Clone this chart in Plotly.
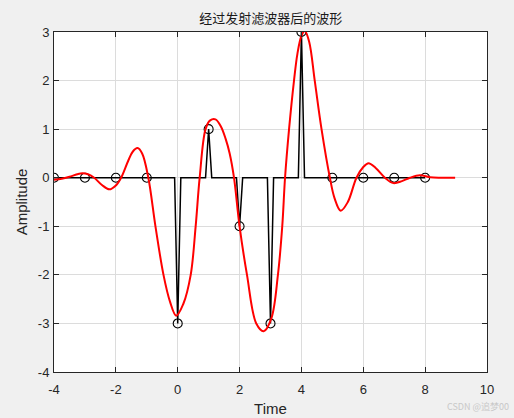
import numpy as np
import plotly.graph_objects as go

# symbol times and values (black stems with circles)
sym_t = [-4, -3, -2, -1, 0, 1, 2, 3, 4, 5, 6, 7, 8]
sym_v = [0, 0, 0, 0, -3, 1, -1, -3, 3, 0, 0, 0, 0]

# filtered waveform (red)
red_t = [-4.0, -3.75, -3.5, -3.25, -3.08, -2.9, -2.7, -2.45, -2.21, -2.0, -1.83,
         -1.6, -1.45, -1.3, -1.15, -0.95, -0.72, -0.46, -0.25, -0.05, 0.18, 0.42,
         0.58, 0.71, 0.9, 1.05, 1.22, 1.4, 1.55, 1.68, 1.82, 2.0, 2.24, 2.54,
         2.78, 3.03, 3.24, 3.38, 3.47, 3.6, 3.76, 3.87, 4.0, 4.11, 4.25, 4.43,
         4.65, 4.92, 5.07, 5.27, 5.5, 5.78, 6.0, 6.17, 6.4, 6.7, 6.97, 7.25,
         7.51, 7.83, 8.16, 8.5, 8.97]
red_v = [-0.04, -0.02, 0.02, 0.07, 0.09, 0.07, 0.0, -0.15, -0.24, -0.16, 0.0,
         0.35, 0.54, 0.61, 0.5, 0.0, -1.0, -2.0, -2.55, -2.84, -2.6, -2.0,
         -1.0, 0.0, 1.0, 1.18, 1.2, 1.05, 0.8, 0.5, 0.0, -1.0, -2.0, -3.0,
         -3.16, -2.89, -2.0, -1.0, 0.0, 1.0, 2.0, 2.55, 2.92, 3.02, 2.8, 2.0,
         1.0, 0.0, -0.42, -0.68, -0.5, 0.0, 0.22, 0.30, 0.2, 0.0, -0.11, -0.07,
         0.0, 0.05, 0.01, 0.0, 0.0]

x_ticks = [-4, -2, 0, 2, 4, 6, 8, 10]
x_labels = ["-4", "-2", "0", "2", "4", "6", "8", "10"]
y_ticks = [-4, -3, -2, -1, 0, 1, 2, 3]
y_labels = ["-4", "-3", "-2", "-1", "0", "1", "2", "3"]

# upsampled symbol train (10 samples per symbol)
up = 10
n = (len(sym_t) - 1) * up + 1
t_up = np.round(sym_t[0] + np.arange(n) / up, 3)
v_up = np.zeros(n)
v_up[::up] = sym_v

fig = go.Figure()
fig.add_trace(go.Scatter(x=t_up, y=v_up, mode="lines",
                         line=dict(color="black", width=1.5), showlegend=False))
fig.add_trace(go.Scatter(x=sym_t, y=sym_v, mode="markers",
                         marker=dict(symbol="circle-open", color="black", size=9,
                                     line=dict(width=1.1)), showlegend=False))
fig.add_trace(go.Scatter(x=red_t, y=red_v, mode="lines",
                         line=dict(color="#ff0000", width=2, shape="spline", smoothing=1.0),
                         showlegend=False))

axis_common = dict(showgrid=True, gridcolor="#dcdcdc", gridwidth=1, automargin=False,
                   zeroline=False, showline=True, linecolor="#262626", linewidth=1,
                   mirror="ticks", ticks="inside", ticklen=5, tickcolor="#262626",
                   tickfont=dict(family="Liberation Sans, Arial", size=13, color="#262626"))

fig.update_xaxes(range=[-4, 10], tickvals=x_ticks, ticktext=x_labels, **axis_common,
                 ticklabelstandoff=5,
                 title=dict(text="Time", font=dict(family="Liberation Sans, Arial", size=15, color="#262626"),
                            standoff=7))
fig.update_yaxes(range=[-4, 3], tickvals=y_ticks, ticktext=y_labels, **axis_common,
                 ticklabelstandoff=1,
                 title=dict(text="Amplitude", font=dict(family="Liberation Sans, Arial", size=15, color="#262626"),
                            standoff=6))

fig.update_layout(
    width=514, height=418,
    paper_bgcolor="#f0f0f0", plot_bgcolor="white",
    margin=dict(l=54, r=27, t=32, b=46),
    title=dict(text="经过发射滤波器后的波形", x=0.527, xanchor="center", y=0.957, yanchor="middle",
               font=dict(family="Noto Sans CJK SC", size=13, color="#1a1a1a")),
    annotations=[dict(text="CSDN @追梦00", xref="paper", yref="paper", x=1.055, y=-0.1,
                      xanchor="right", yanchor="middle", showarrow=False,
                      font=dict(family="Noto Sans CJK SC", size=9, color="#c8c8c8"))],
)

fig.write_html("out.html", config={"displayModeBar": False},
               post_script="document.body.style.margin='0';document.body.style.background='#f0f0f0';")
